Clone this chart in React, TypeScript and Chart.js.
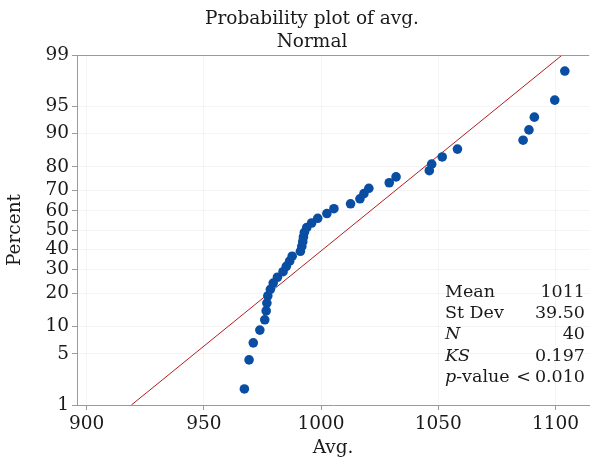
import React, { useEffect, useRef } from "react";
import { Chart, registerables } from "chart.js";

Chart.register(...registerables);

// ---- data ----
const AVG_VALUES = [
  967.3, 969.3, 971.1, 973.9, 976.0, 976.6, 976.9, 977.3, 978.4, 979.6,
  981.4, 983.8, 985.2, 986.6, 987.7, 991.2, 991.8, 992.2, 992.5, 992.9,
  993.9, 996.0, 998.6, 1002.5, 1005.5, 1012.6, 1016.6, 1018.3, 1020.4, 1029.1,
  1032.0, 1046.2, 1047.2, 1051.7, 1058.2, 1086.2, 1088.7, 1091.0, 1099.7, 1104.0,
];
const PERCENTS = [
  1.73, 4.21, 6.68, 9.16, 11.63, 14.11, 16.58, 19.06, 21.53, 24.01,
  26.49, 28.96, 31.44, 33.91, 36.39, 38.86, 41.34, 43.81, 46.29, 48.76,
  51.24, 53.71, 56.19, 58.66, 61.14, 63.61, 66.09, 68.56, 71.04, 73.51,
  75.99, 78.47, 80.94, 83.42, 85.89, 88.37, 90.84, 93.32, 95.79, 98.27,
];
const Y_TICKS = [1, 5, 10, 20, 30, 40, 50, 60, 70, 80, 90, 95, 99];
const X_TICKS = [900, 950, 1000, 1050, 1100];
const X_MIN = 895.9;
const X_MAX = 1114.4;
const FIT_PERCENTS = [1, 99];
const MEAN = 1011;
const STDEV = 39.5;
const STATS_LABELS = ["Mean", "St Dev", "N", "KS", "p"];
const STATS_VALUES = ["1011", "39.50", "40", "0.197", "0.010"];
const TITLE_LINES = ["Probability plot of avg.", "Normal"];
const X_TITLE = "Avg.";
const Y_TITLE = "Percent";

// ---- styles ----
const FONT = "'DejaVu Serif', serif";
const FS = 18.5;
const SFS = 17.5;
const TEXT = "#1a1a1a";
const AXIS = "#9a9a9a";
const POINT = "#0a4ea3";
const LINE = "#b01e1e";

// inverse standard normal CDF (Acklam)
function probit(p: number): number {
  const a = [-3.969683028665376e1, 2.209460984245205e2, -2.759285104469687e2, 1.38357751867269e2, -3.066479806614716e1, 2.506628277459239];
  const b = [-5.447609879822406e1, 1.615858368580409e2, -1.556989798598866e2, 6.680131188771972e1, -1.328068155288572e1];
  const c = [-7.784894002430293e-3, -3.223964580411365e-1, -2.400758277161838, -2.549732539343734, 4.374664141464968, 2.938163982698783];
  const d = [7.784695709041462e-3, 3.224671290700398e-1, 2.445134137142996, 3.754408661907416];
  const pl = 0.02425;
  if (p < pl) {
    const q = Math.sqrt(-2 * Math.log(p));
    return (((((c[0] * q + c[1]) * q + c[2]) * q + c[3]) * q + c[4]) * q + c[5]) / ((((d[0] * q + d[1]) * q + d[2]) * q + d[3]) * q + 1);
  }
  if (p > 1 - pl) {
    const q = Math.sqrt(-2 * Math.log(1 - p));
    return -(((((c[0] * q + c[1]) * q + c[2]) * q + c[3]) * q + c[4]) * q + c[5]) / ((((d[0] * q + d[1]) * q + d[2]) * q + d[3]) * q + 1);
  }
  const q = p - 0.5;
  const r = q * q;
  return ((((((a[0] * r + a[1]) * r + a[2]) * r + a[3]) * r + a[4]) * r + a[5]) * q) / (((((b[0] * r + b[1]) * r + b[2]) * r + b[3]) * r + b[4]) * r + 1);
}

const overlay = {
  id: "overlay",
  afterDraw(chart: any) {
    const { ctx, chartArea } = chart;
    ctx.save();
    // top frame line
    ctx.strokeStyle = AXIS;
    ctx.lineWidth = 1;
    ctx.beginPath();
    ctx.moveTo(chartArea.left, Math.round(chartArea.top) + 0.5);
    ctx.lineTo(chartArea.right, Math.round(chartArea.top) + 0.5);
    ctx.stroke();

    // title
    ctx.fillStyle = TEXT;
    ctx.textBaseline = "alphabetic";
    ctx.textAlign = "center";
    ctx.font = `${FS}px ${FONT}`;
    ctx.fillText(TITLE_LINES[0], 312, 24);
    ctx.fillText(TITLE_LINES[1], 312, 47);

    // stats box
    const lx = 445;
    const rx = 585;
    const y0 = 297;
    const dy = 21.2;
    for (let i = 0; i < STATS_LABELS.length; i++) {
      const y = y0 + i * dy;
      const lab = STATS_LABELS[i];
      ctx.textAlign = "left";
      if (lab === "N" || lab === "KS") {
        ctx.font = `italic ${SFS}px ${FONT}`;
        ctx.fillText(lab, lx, y);
      } else if (lab === "p") {
        ctx.font = `italic ${SFS}px ${FONT}`;
        ctx.fillText("p", lx, y);
        const w = ctx.measureText("p").width;
        ctx.font = `${SFS}px ${FONT}`;
        ctx.fillText("-value", lx + w, y);
        ctx.textAlign = "right";
        ctx.fillText("<", 531, y);
      } else {
        ctx.font = `${SFS}px ${FONT}`;
        ctx.fillText(lab, lx, y);
      }
      ctx.font = `${SFS}px ${FONT}`;
      ctx.textAlign = "right";
      ctx.fillText(STATS_VALUES[i], rx, y);
    }
    ctx.restore();
  },
};

export default function App() {
  const ref = useRef<HTMLCanvasElement | null>(null);

  useEffect(() => {
    if (!ref.current) return;
    const points = AVG_VALUES.map((v, i) => ({ x: v, y: probit(PERCENTS[i] / 100) }));
    const fit = FIT_PERCENTS.map((p) => ({ x: MEAN + STDEV * probit(p / 100), y: probit(p / 100) }));

    const chart = new Chart(ref.current, {
      type: "scatter",
      data: {
        datasets: [
          {
            type: "line",
            label: "Fit",
            data: fit,
            borderColor: LINE,
            borderWidth: 1,
            pointRadius: 0,
            fill: false,
            order: 2,
          },
          {
            label: "avg.",
            data: points,
            backgroundColor: POINT,
            borderColor: POINT,
            pointRadius: 4.8,
            pointBorderWidth: 0,
            order: 1,
          },
        ],
      },
      options: {
        animation: false,
        responsive: false,
        layout: { padding: { top: 55, left: 0, right: 0, bottom: 0 } },
        plugins: {
          legend: { display: false },
          tooltip: { enabled: false },
          title: { display: false },
        },
        scales: {
          x: {
            type: "linear",
            min: X_MIN,
            max: X_MAX,
            afterBuildTicks: (scale: any) => {
              scale.ticks = X_TICKS.map((v) => ({ value: v }));
            },
            afterFit: (scale: any) => {
              scale.height = 56;
            },
            grid: { color: "rgba(0,0,0,0.045)", tickColor: AXIS, tickLength: 5, drawOnChartArea: true },
            border: { color: AXIS, width: 1 },
            ticks: {
              color: TEXT,
              font: { family: FONT, size: FS },
              padding: 3,
              maxRotation: 0,
              autoSkip: false,
              callback: (v: any) => String(v),
            },
            title: {
              display: true,
              text: X_TITLE,
              color: TEXT,
              font: { family: FONT, size: FS },
              padding: { top: 0, bottom: 2 },
            },
          },
          y: {
            type: "linear",
            min: probit(Y_TICKS[0] / 100),
            max: probit(Y_TICKS[Y_TICKS.length - 1] / 100),
            afterBuildTicks: (scale: any) => {
              scale.ticks = Y_TICKS.map((p) => ({ value: probit(p / 100) }));
            },
            afterFit: (scale: any) => {
              scale.width = 77;
            },
            grid: { color: "rgba(0,0,0,0.045)", tickColor: AXIS, tickLength: 5 },
            border: { color: AXIS, width: 1 },
            ticks: {
              color: TEXT,
              font: { family: FONT, size: FS },
              padding: 3,
              autoSkip: false,
              callback: (_v: any, i: number) => String(Y_TICKS[i]),
            },
            title: {
              display: true,
              text: Y_TITLE,
              color: TEXT,
              font: { family: FONT, size: FS },
              padding: { top: 4, bottom: 0 },
            },
          },
        },
      },
      plugins: [overlay],
    });
    return () => chart.destroy();
  }, []);

  return (
    <div style={{ position: "absolute", left: 0, top: 0, width: 594, height: 461, background: "#fff" }}>
      <canvas ref={ref} width={594} height={461} style={{ display: "block" }} />
    </div>
  );
}
